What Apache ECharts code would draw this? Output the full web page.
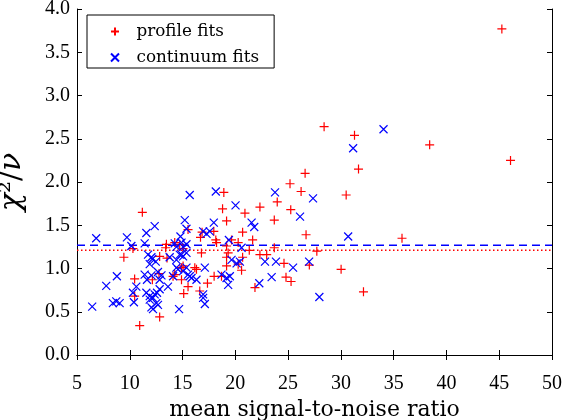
<!DOCTYPE html>
<html><head><meta charset="utf-8">
<script src="https://cdn.jsdelivr.net/npm/echarts@6/dist/echarts.min.js"></script>
<style>html,body{margin:0;padding:0;background:#fff}#c{width:563px;height:420px}</style>
</head><body><div id="c"></div>
<script>
// profile fits (red +): [mean S/N, chi2/nu]
const profileFits = [
 [45.25,3.77],[46.07,2.25],[38.41,2.43],[35.79,1.35],[32.14,0.73],[30.02,0.99],[30.50,1.85],[31.67,2.15],[31.29,2.54],[28.41,2.64],
 [26.61,2.10],[25.18,1.98],[26.23,1.89],[23.97,1.77],[25.25,1.68],[23.69,1.56],[23.69,1.24],[24.61,1.06],[24.80,0.90],[25.28,0.85],
 [27.01,1.04],[26.70,1.39],[27.72,1.20],
 [18.91,1.88],[18.79,1.69],[20.91,1.64],[22.33,1.71],[19.17,1.55],[15.52,1.45],[16.85,1.42],[17.96,1.43],[16.70,1.36],[18.15,1.33],
 [18.22,1.30],[20.69,1.42],[21.64,1.33],[20.27,1.30],[14.26,1.30],[14.73,1.28],[19.17,1.26],[21.32,1.21],[22.33,1.16],[22.97,1.16],
 [16.79,1.18],[20.69,1.13],[19.17,1.03],[20.27,1.05],[20.59,0.98],[16.16,1.01],[16.32,0.99],[14.90,1.01],[14.90,0.87],[14.10,0.91],
 [17.99,0.91],[18.69,0.91],[17.36,0.83],[15.52,0.79],[21.86,0.78],[16.63,0.74],[15.11,0.71],[12.83,0.44],[11.19,1.65],[9.44,1.13],
 [10.46,0.88],[10.46,0.68],[12.14,0.87],[12.77,0.94],[12.83,1.14],[13.53,1.12],[13.47,1.28],[10.94,0.34],[10.30,1.23],
 [13.40,1.24],[15.05,1.23],[14.26,0.93],[15.05,1.03],[19.64,1.33],[19.17,1.13],[19.32,1.18]
];
// continuum fits (blue x)
const continuumFits = [
 [34.04,2.61],[31.16,2.39],[23.76,1.88],[27.36,1.81],[26.13,1.60],[30.69,1.37],[23.85,1.08],[25.47,1.01],[26.99,1.08],[23.44,0.90],[27.96,0.67],
 [15.68,1.85],[18.15,1.89],[20.02,1.73],[15.21,1.56],[15.37,1.46],[17.96,1.53],[17.58,1.43],[17.27,1.40],[21.54,1.53],[21.79,1.48],[16.95,1.43],
 [14.90,1.30],[15.37,1.28],[19.39,1.33],[20.59,1.24],[14.80,1.37],[14.26,1.29],[14.42,1.25],[15.05,1.25],
 [14.90,1.16],[14.42,1.10],[14.73,1.16],[15.05,1.14],[15.37,1.18],[19.64,1.10],[20.12,1.06],[20.43,1.08],[22.81,1.08],
 [17.11,1.01],[14.57,0.99],[15.37,1.01],[15.05,0.97],[14.42,1.01],[15.68,0.91],[15.52,0.93],[15.85,0.89],[16.32,0.87],
 [18.69,0.93],[19.17,0.89],[19.48,0.91],[19.32,0.81],[22.27,0.83],
 [16.95,0.70],[16.95,0.66],[17.11,0.59],[14.67,0.53],[13.62,0.79],[12.83,0.76],
 [13.78,1.13],[12.36,1.49],[12.05,1.13],[12.14,1.11],[12.46,1.08],[12.05,0.92],[12.67,0.96],[13.00,0.92],[12.83,0.87],[14.10,0.91],
 [12.20,0.66],[12.52,0.60],[12.67,0.58],[12.05,0.55],
 [6.44,0.56],[6.82,1.35],[7.77,0.80],[8.78,0.91],[8.40,0.60],[8.72,0.62],[9.04,0.60],[9.73,1.36],[10.15,1.26],[10.39,0.61],[10.30,0.72],
 [10.62,0.79],[11.41,0.93],[11.57,1.41],[11.41,1.29],[11.73,1.16],[11.89,1.05],[11.63,0.87],[11.57,0.72],[11.89,0.64],[12.20,0.53],
 [11.89,0.68],[12.36,0.70],[12.58,0.72]
];
const continuumMean = 1.27;   // dashed blue line
const profileMean = 1.21;     // dotted red line
const xRange = [5, 50];
const yRange = [0, 4];
const xStep = 5;
const yStep = 0.5;
const seriesNames = ['profile fits', 'continuum fits'];

const plusPath = 'path://M0,5L10,5M5,0L5,10';
const crossPath = 'path://M0,0L10,10M10,0L0,10';
const tickFont = {fontFamily: 'Liberation Serif', fontSize: 20, color: '#000'};

const chart = echarts.init(document.getElementById('c'), null, {renderer: 'canvas'});
const baseX = {type: 'value', min: xRange[0], max: xRange[1], interval: xStep, splitLine: {show: false},
  axisLine: {lineStyle: {color: '#000', width: 1}}, axisTick: {inside: true, length: 5, lineStyle: {color: '#000'}}};
const baseY = {type: 'value', min: yRange[0], max: yRange[1], interval: yStep, splitLine: {show: false},
  axisLine: {lineStyle: {color: '#000', width: 1}}, axisTick: {inside: true, length: 5, lineStyle: {color: '#000'}}};
chart.setOption({
  animation: false,
  grid: {left: 77, right: 11, top: 9, bottom: 65, containLabel: false, outerBoundsMode: 'none'},
  xAxis: [
    Object.assign({}, baseX, {position: 'bottom', name: 'mean signal-to-noise ratio', nameLocation: 'middle', nameGap: 36,
      nameTextStyle: {fontFamily: 'DejaVu Serif', fontSize: 22, color: '#000'},
      axisLabel: Object.assign({margin: 19}, tickFont)}),
    Object.assign({}, baseX, {position: 'top', axisLabel: {show: false}})
  ],
  yAxis: [
    Object.assign({}, baseY, {position: 'left', name: '{i|χ}²/{i|ν}', nameLocation: 'middle', nameGap: 50, nameRotate: 90,
      nameTextStyle: {fontFamily: 'DejaVu Serif', fontSize: 30, color: '#000', rich: {i: {fontFamily: 'DejaVu Serif', fontStyle: 'italic', fontSize: 30, color: '#000'}}},
      axisLabel: Object.assign({margin: 7, formatter: v => v.toFixed(1)}, tickFont)}),
    Object.assign({}, baseY, {position: 'right', axisLabel: {show: false}})
  ],
  legend: {
    data: seriesNames, orient: 'vertical', left: 87, top: 15,
    padding: [8, 15, 2, 23], itemWidth: 33, itemHeight: 8, itemGap: 9,
    borderColor: '#000', borderWidth: 1, backgroundColor: '#fff',
    selectedMode: false,
    textStyle: {fontFamily: 'DejaVu Serif', fontSize: 16.8, lineHeight: 14, color: '#000'}
  },
  series: [
    {name: seriesNames[0], type: 'scatter', data: profileFits, symbol: plusPath, symbolSize: 9, symbolKeepAspect: true,
      itemStyle: {color: '#ff0000', borderColor: '#ff0000', borderWidth: 1.2, opacity: 1}, emphasis: {disabled: true}, z: 3},
    {name: seriesNames[1], type: 'scatter', data: continuumFits, symbol: crossPath, symbolSize: 8, symbolKeepAspect: true,
      itemStyle: {color: '#0000ff', borderColor: '#0000ff', borderWidth: 1.2, opacity: 1}, emphasis: {disabled: true}, z: 3},
    {name: 'continuum mean', type: 'line', data: [[xRange[0], continuumMean], [xRange[1], continuumMean]], symbol: 'none',
      lineStyle: {color: '#0000ff', width: 1.5, type: [8, 5]}, silent: true, z: 2},
    {name: 'profile mean', type: 'line', data: [[xRange[0], profileMean], [xRange[1], profileMean]], symbol: 'none',
      lineStyle: {color: '#ff0000', width: 1.5, type: [1.5, 2.5]}, silent: true, z: 2}
  ]
});
</script></body></html>
